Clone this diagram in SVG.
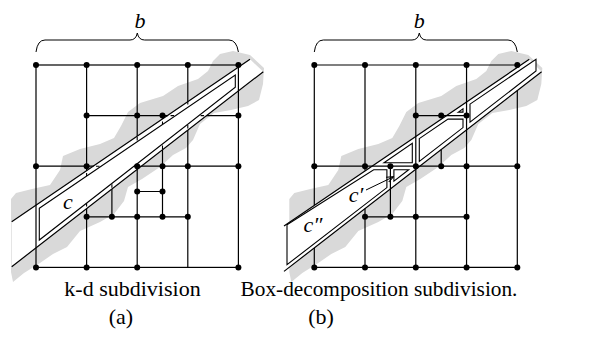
<svg xmlns="http://www.w3.org/2000/svg" width="593" height="347" viewBox="0 0 593 347">
<style>
.blob{fill:#d9d9d9;stroke:none}
.cor{fill:#fff;stroke:none}
.g{stroke:#000;stroke-width:1.2;fill:none}
.d{stroke:#000;stroke-width:1.1;fill:none;stroke-dasharray:3.5,2.5}
.w{stroke:#000;stroke-width:1.2;fill:none}
.cell{stroke:#000;stroke-width:1.1;fill:#fff;stroke-linejoin:miter}
.br{stroke:#000;stroke-width:1;fill:none}
.it{font-family:"Liberation Serif",serif;font-style:italic;font-size:22px}
.cap{font-family:"Liberation Serif",serif;font-size:22px;text-anchor:middle}
</style>
<defs>
<circle id="dot" r="3" fill="#000"/>
<polygon id="blobShape" points="11,199 16,193 32,189 50,185 60,170 63,156 80,149 100,144 114,138 121,126 128,112 140,103 163,96 178,86 198,79 208,71 213,61 220,54 233,51 250,55 264,68 263,84 259,100 248,106 231,110 214,113 200,124 193,140 186,148 173,155 160,167 142,179 128,187 124,201 114,214 100,222 80,231 67,247 53,254 40,263 24,273 13,282 11,272"/>
<clipPath id="aIn"><polygon points="11.7,221.7 250,59.3 263.3,71.7 11.7,266.7"/></clipPath>
<clipPath id="aOut"><path clip-rule="evenodd" d="M0,0H593V347H0Z M11.7,221.7 L250,59.3 L263.3,71.7 L11.7,266.7Z"/></clipPath>
<marker id="ah" viewBox="0 0 10 10" refX="9" refY="5" markerWidth="7" markerHeight="7" orient="auto"><path d="M0,1 L10,5 L0,9" fill="none" stroke="#000" stroke-width="1.5"/></marker>
</defs>

<g id="panel-a">
<use href="#blobShape" class="blob"/>
<polygon class="cor" points="11.7,221.7 250,59.3 263.3,71.7 11.7,266.7"/>
<g id="grid-a-solid" clip-path="url(#aOut)">
<path class="g" d="M86.6,65V267.4 M137.2,65V267.4 M187.8,65V267.4 M86.6,115.6H238.4 M36,166.2H238.4 M86.6,216.8H187.8 M162.5,115.6V216.8 M111.9,166.2V216.8 M137.2,191.5H162.5"/>
</g>
<g id="grid-a-dashed" clip-path="url(#aIn)">
<path class="d" d="M86.6,65V267.4 M137.2,65V267.4 M187.8,65V267.4 M86.6,115.6H238.4 M36,166.2H238.4 M86.6,216.8H187.8 M162.5,115.6V216.8 M111.9,166.2V216.8 M137.2,191.5H162.5"/>
</g>
<rect class="g" x="36" y="65" width="202.4" height="202.4"/>
<path class="w" d="M11.7,221.7 L250,59.3 M11.7,266.7 L263.3,71.7"/>
<polygon id="cell-c" class="cell" points="39.3,208.3 235.3,75 235.3,87.3 39.3,240"/>
<g id="dots-a">
<use href="#dot" x="36" y="65"/><use href="#dot" x="86.6" y="65"/><use href="#dot" x="137.2" y="65"/><use href="#dot" x="187.8" y="65"/><use href="#dot" x="238.4" y="65"/>
<use href="#dot" x="86.6" y="115.6"/><use href="#dot" x="137.2" y="115.6"/><use href="#dot" x="162.5" y="115.6"/><use href="#dot" x="238.4" y="115.6"/>
<use href="#dot" x="36" y="166.2"/><use href="#dot" x="86.6" y="166.2"/><use href="#dot" x="137.2" y="166.2"/><use href="#dot" x="162.5" y="166.2"/><use href="#dot" x="187.8" y="166.2"/><use href="#dot" x="238.4" y="166.2"/>
<use href="#dot" x="137.2" y="191.5"/><use href="#dot" x="162.5" y="191.5"/>
<use href="#dot" x="86.6" y="216.8"/><use href="#dot" x="111.9" y="216.8"/><use href="#dot" x="137.2" y="216.8"/><use href="#dot" x="162.5" y="216.8"/><use href="#dot" x="187.8" y="216.8"/>
<use href="#dot" x="36" y="267.4"/><use href="#dot" x="86.6" y="267.4"/><use href="#dot" x="137.2" y="267.4"/><use href="#dot" x="238.4" y="267.4"/>
</g>
<path class="br" d="M36,52 Q37.5,40 45,40 L130,40 Q136,40 137.3,33 Q138.6,40 144.6,40 L229,40 Q236.5,40 238.4,52"/>
<text class="it" x="140" y="28" text-anchor="middle">b</text>
<text class="it" x="68" y="209" text-anchor="middle">c</text>
<text class="cap" x="132.5" y="296">k-d subdivision</text>
<text class="cap" x="121" y="324">(a)</text>
</g>

<g id="panel-b">
<use href="#blobShape" class="blob" transform="translate(278.3,0)"/>
<polygon class="cor" points="284,226.1 529.3,59.3 541.6,71.7 284,271.4"/>
<g id="grid-b">
<path class="g" d="M314.3,65H517.3 M314.3,267.4H517.3 M314.3,65V205.1 M314.3,247.9V267.4 M517.3,90.5V267.4 M365,65V170.6 M365,208.6V267.4 M415.8,65V267.4 M466.55,65V267.4 M415.8,115.6H466.55 M314.3,166.2H517.3 M365,216.8H466.55 M390.4,166.2V216.8 M441.2,149.5V166.2"/>
</g>
<path class="w" d="M284,226.1 L529.3,59.3 M284,271.4 L541.6,71.7"/>
<g id="cells-b">
<polygon id="cell-tr" class="cell" points="470,104.1 536,59.2 536,71 470,122.2"/>
<polygon id="cell-mid" class="cell" points="419.3,138.6 448,119.1 463,119.1 463,127.6 419.3,161.5"/>
<polygon id="cell-small" class="cell" points="458.3,112.1 463,108.9 463,112.1"/>
<polygon id="cell-tri" class="cell" points="384,162.7 412.3,143.4 412.3,162.7"/>
<polygon id="cell-c1" class="cell" points="393.9,169.7 408.7,169.7 393.9,181.2"/>
<polygon id="cell-c2" class="cell" points="287,224.7 373.7,169.7 386.9,169.7 386.9,187.6 287,264.7"/>
</g>
<g id="dots-b">
<use href="#dot" x="314.3" y="65"/><use href="#dot" x="365" y="65"/><use href="#dot" x="415.8" y="65"/><use href="#dot" x="466.55" y="65"/><use href="#dot" x="517.3" y="65"/>
<use href="#dot" x="415.8" y="115.6"/><use href="#dot" x="441.2" y="115.6"/><use href="#dot" x="466.55" y="115.6"/>
<use href="#dot" x="314.3" y="166.2"/><use href="#dot" x="365" y="166.2"/><use href="#dot" x="390.4" y="166.2"/><use href="#dot" x="415.8" y="166.2"/><use href="#dot" x="441.2" y="166.2"/><use href="#dot" x="466.55" y="166.2"/><use href="#dot" x="517.3" y="166.2"/>
<use href="#dot" x="365" y="216.8"/><use href="#dot" x="390.4" y="216.8"/><use href="#dot" x="415.8" y="216.8"/><use href="#dot" x="466.55" y="216.8"/>
<use href="#dot" x="314.3" y="267.4"/><use href="#dot" x="365" y="267.4"/><use href="#dot" x="415.8" y="267.4"/><use href="#dot" x="466.55" y="267.4"/><use href="#dot" x="517.3" y="267.4"/>
</g>
<path class="br" d="M314.3,52 Q315.8,40 323.3,40 L412,40 Q418,40 419.3,33 Q420.6,40 426.6,40 L508,40 Q515.5,40 517.3,52"/>
<text class="it" x="419.3" y="28" text-anchor="middle">b</text>
<text class="it" x="356" y="202" text-anchor="middle">c′</text>
<text class="it" x="313" y="232" text-anchor="middle">c″</text>
<path class="br" marker-end="url(#ah)" d="M366,190 L393,177"/>
<text class="cap" x="379" y="296" style="font-size:21.3px">Box-decomposition subdivision.</text>
<text class="cap" x="321" y="324">(b)</text>
</g>
</svg>
